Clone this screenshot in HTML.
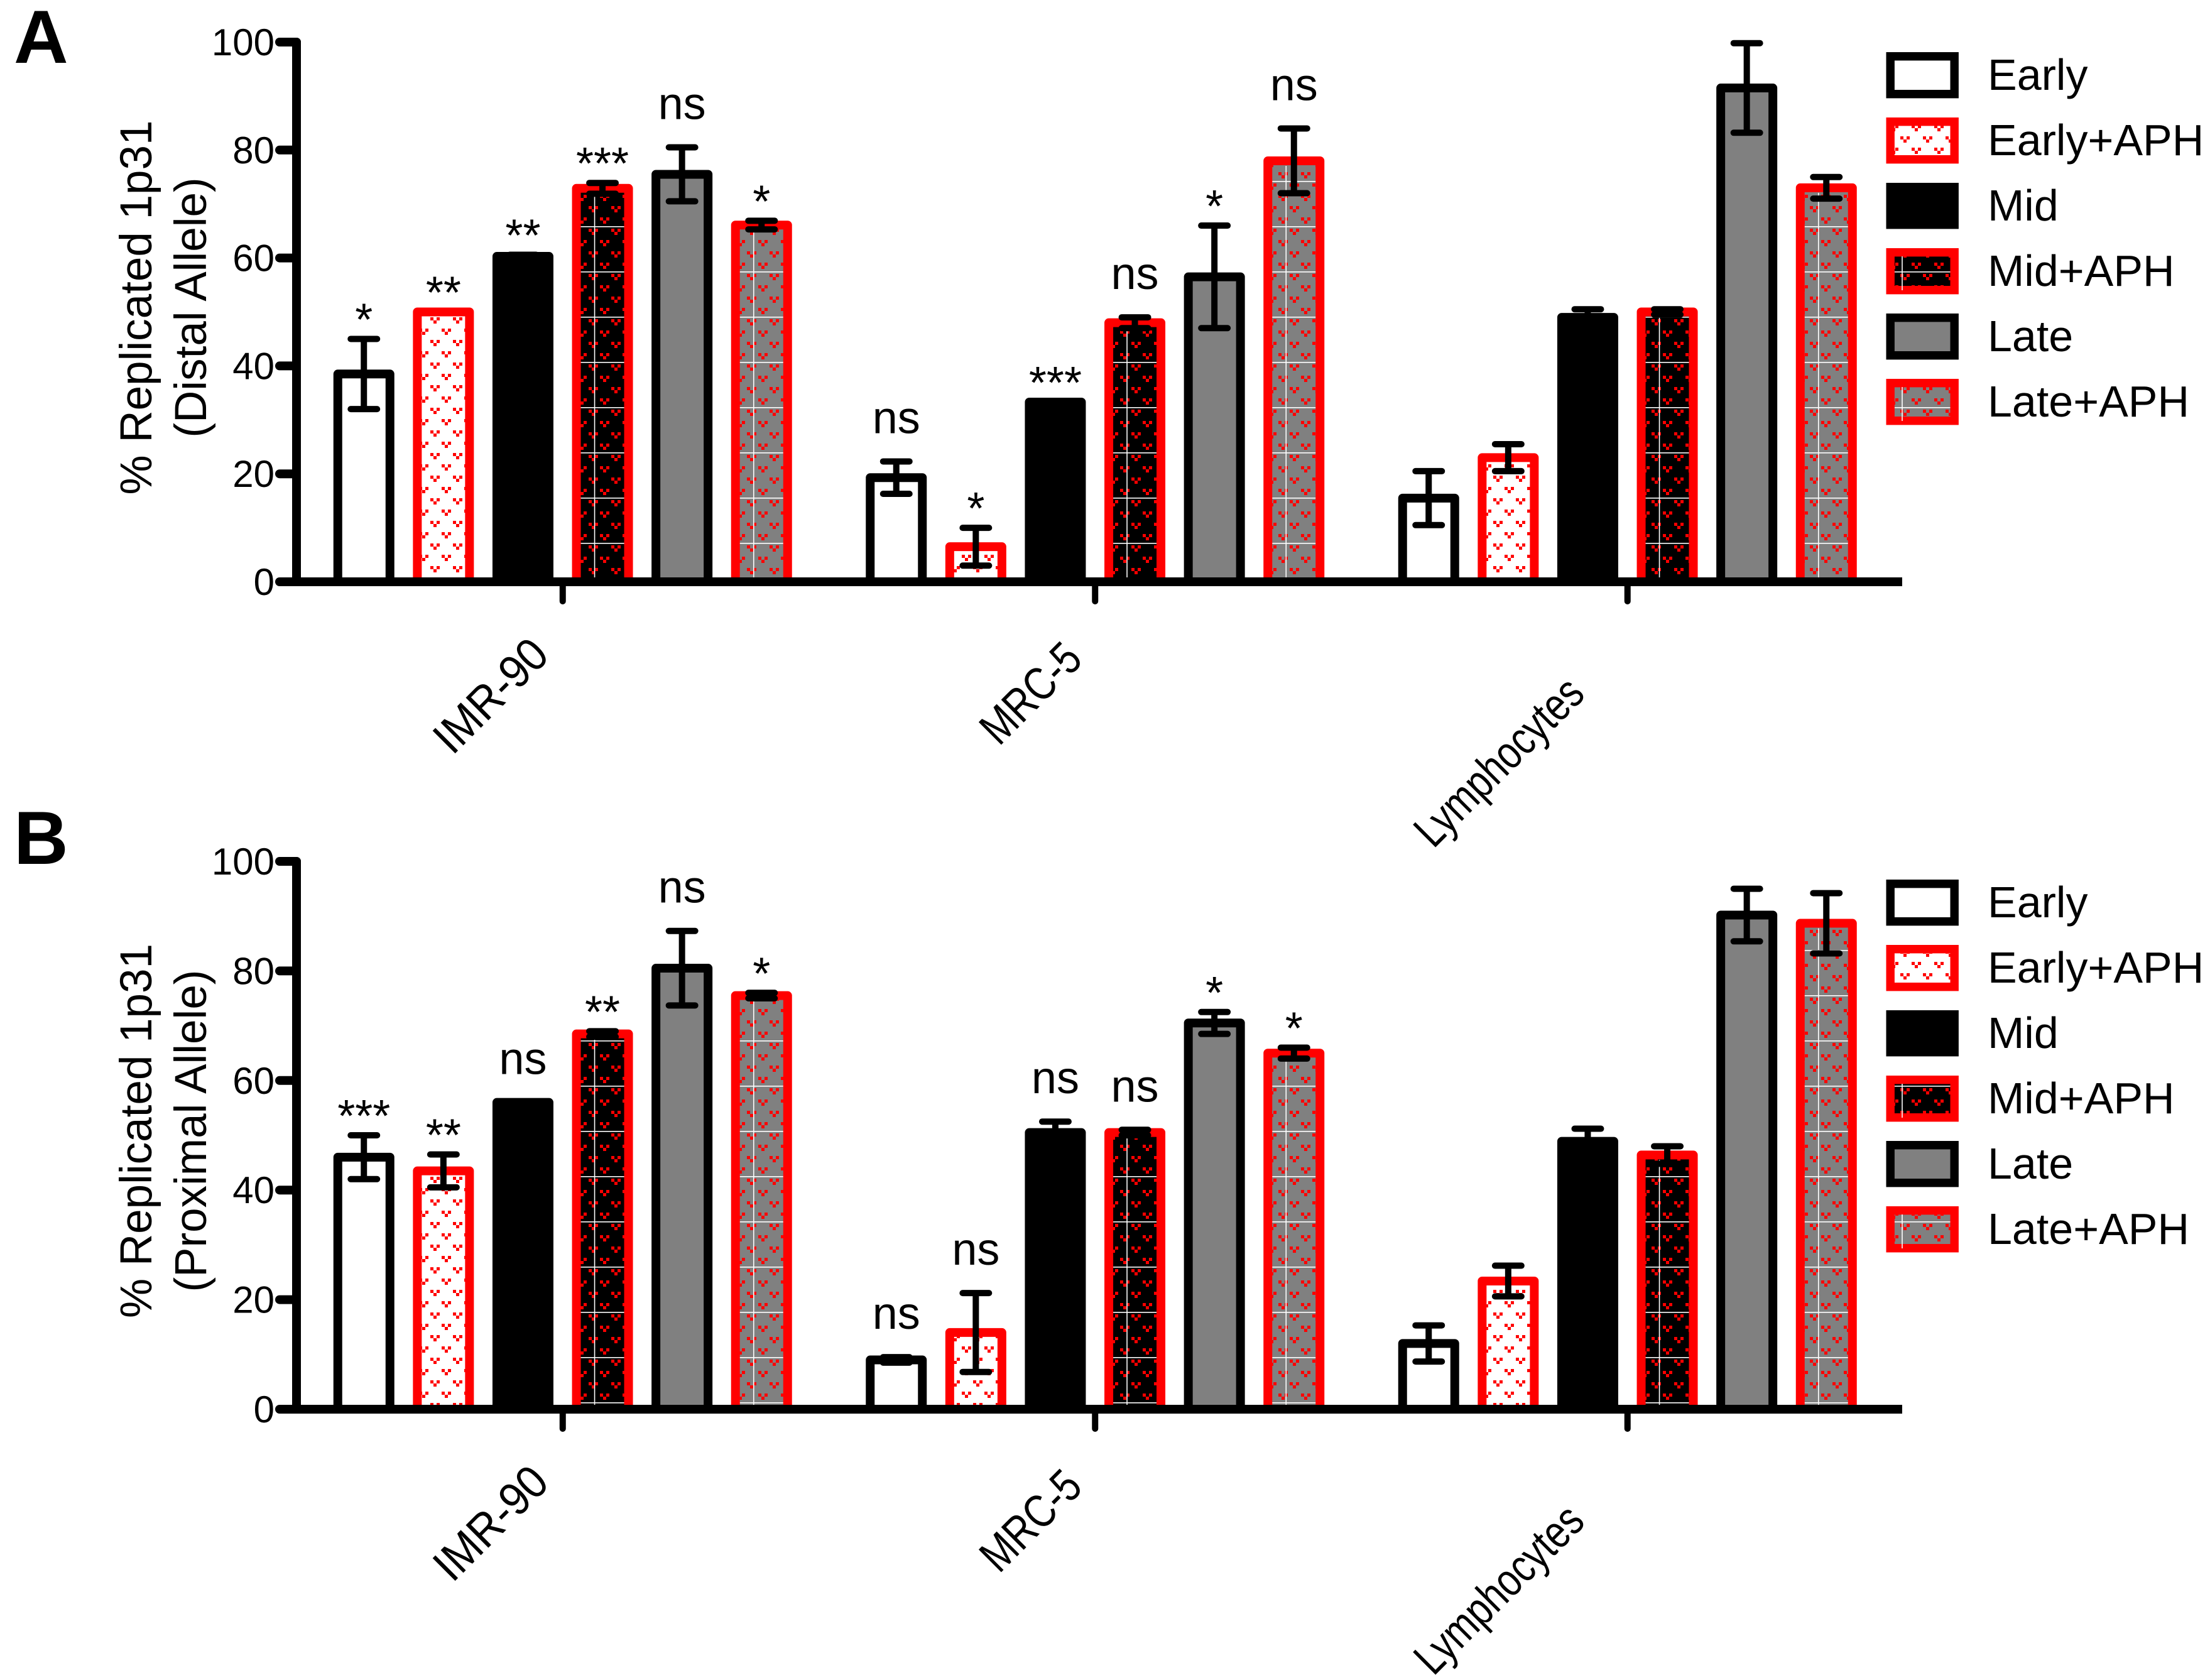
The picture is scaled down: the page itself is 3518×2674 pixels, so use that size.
<!DOCTYPE html>
<html>
<head>
<meta charset="utf-8">
<style>
html,body{margin:0;padding:0;background:#fff;}
svg{display:block;}
text{font-family:"Liberation Sans",Arial,sans-serif;}
</style>
</head>
<body>
<svg id="chart" xmlns="http://www.w3.org/2000/svg" width="3518" height="2674" viewBox="0 0 3518 2674">
<defs>
  <pattern id="pat-white" patternUnits="userSpaceOnUse" width="36" height="36">
    <rect width="36" height="36" fill="#fff"/>
    <g fill="#f00">
      <rect x="1" y="1" width="5" height="5"/><rect x="11" y="1" width="5" height="5"/><rect x="6" y="6" width="5" height="5"/>
      <rect x="19" y="19" width="5" height="5"/><rect x="29" y="19" width="5" height="5"/><rect x="24" y="24" width="5" height="5"/>
    </g>
  </pattern>
  <pattern id="pat-black" patternUnits="userSpaceOnUse" width="36" height="72">
    <rect width="36" height="72" fill="#000"/>
    <rect x="0" y="0" width="36" height="1.6" fill="#fff"/>
    <g fill="#f00">
      <rect x="1" y="4" width="5" height="5"/><rect x="11" y="4" width="5" height="5"/><rect x="6" y="9" width="5" height="5"/>
      <rect x="19" y="22" width="5" height="5"/><rect x="29" y="22" width="5" height="5"/><rect x="24" y="27" width="5" height="5"/>
      <rect x="1" y="40" width="5" height="5"/><rect x="11" y="40" width="5" height="5"/><rect x="6" y="45" width="5" height="5"/>
      <rect x="19" y="58" width="5" height="5"/><rect x="29" y="58" width="5" height="5"/><rect x="24" y="63" width="5" height="5"/>
    </g>
  </pattern>
  <pattern id="pat-gray" patternUnits="userSpaceOnUse" width="36" height="72">
    <rect width="36" height="72" fill="#808080"/>
    <rect x="0" y="0" width="36" height="1.6" fill="#fff"/>
    <g fill="#f00">
      <rect x="1" y="4" width="5" height="5"/><rect x="11" y="4" width="5" height="5"/><rect x="6" y="9" width="5" height="5"/>
      <rect x="19" y="22" width="5" height="5"/><rect x="29" y="22" width="5" height="5"/><rect x="24" y="27" width="5" height="5"/>
      <rect x="1" y="40" width="5" height="5"/><rect x="11" y="40" width="5" height="5"/><rect x="6" y="45" width="5" height="5"/>
      <rect x="19" y="58" width="5" height="5"/><rect x="29" y="58" width="5" height="5"/><rect x="24" y="63" width="5" height="5"/>
    </g>
  </pattern>
</defs>
<text x="22" y="100" font-size="120" font-weight="bold">A</text>
<text x="22" y="1375" font-size="120" font-weight="bold">B</text>
</svg>
<script>
const categories = ['IMR-90', 'MRC-5', 'Lymphocytes'];
const seriesNames = ['Early', 'Early+APH', 'Mid', 'Mid+APH', 'Late', 'Late+APH'];
const yTicks = [0, 20, 40, 60, 80, 100];

const distalMean = [
  [38.5, 50, 60.3, 72.9, 75.5, 66.1],
  [19.3, 6.5, 33.3, 48, 56.5, 78],
  [15.5, 23, 49, 50, 91.5, 73]
];
const distalErr = [
  [6.5, 0, 0.3, 1, 5, 0.8],
  [3, 3.5, 0, 1, 9.5, 6],
  [5, 2.5, 1.5, 0.5, 8.3, 2]
];
const distalSig = [
  ['*', '**', '**', '***', 'ns', '*'],
  ['ns', '*', '***', 'ns', '*', 'ns'],
  ['', '', '', '', '', '']
];
const proximalMean = [
  [46, 43.5, 56, 68.5, 80.5, 75.5],
  [9, 14, 50.5, 50.5, 70.5, 65],
  [12, 23.4, 48.9, 46.4, 90.2, 88.7]
];
const proximalErr = [
  [4, 3, 0, 0.5, 6.8, 0.5],
  [0.5, 7.2, 2, 0.5, 2, 1],
  [3.3, 2.8, 2.3, 1.6, 4.8, 5.5]
];
const proximalSig = [
  ['***', '**', 'ns', '**', 'ns', '*'],
  ['ns', 'ns', 'ns', 'ns', '*', '*'],
  ['', '', '', '', '', '']
];

const NS = 'http://www.w3.org/2000/svg';
const svg = document.getElementById('chart');
const styles = [
  {fill: '#fff', stroke: '#000', vline: false},
  {fill: 'url(#pat-white)', stroke: '#f00', vline: false},
  {fill: '#000', stroke: '#000', vline: false},
  {fill: 'url(#pat-black)', stroke: '#f00', vline: true},
  {fill: '#808080', stroke: '#000', vline: false},
  {fill: 'url(#pat-gray)', stroke: '#f00', vline: true}
];
const labelOffsets = [[-115, 181], [-103, 177], [-205, 286]];
const labelLengths = [222, 192, 345];

function mk(tag, attrs, parent) {
  const e = document.createElementNS(NS, tag);
  for (const k in attrs) e.setAttribute(k, attrs[k]);
  parent.appendChild(e);
  return e;
}

function drawPanel(opts) {
  const g = mk('g', {}, svg);
  
  
  const axisX = 472, x0 = 472, catW = 847.5, barStep = 126.6, barW = 97;
  const yScale = v => opts.y0 - (opts.y0 - opts.y100) * v / 100;
  const catCenter = i => x0 + catW * (i + 0.5);
  const barCenter = (i, j) => catCenter(i) + (j - 2.5) * barStep;

  opts.mean.forEach((row, i) => {
    row.forEach((v, j) => {
      const cx = barCenter(i, j);
      const st = styles[j];
      const r = mk('rect', {x: cx - barW / 2 + 7, y: yScale(v), width: barW - 14, height: Math.max(0, opts.y0 - yScale(v)),
        fill: st.fill, stroke: st.stroke, 'stroke-width': 14, 'stroke-linejoin': 'round'}, g);
      
      
      if (st.vline && v > 2) {
        const l = mk('line', {x1: cx - barW / 2 + 36, x2: cx - barW / 2 + 36, y1: yScale(v) + 8, y2: opts.y0, stroke: '#fff', 'stroke-width': 1.6}, g);
        
        
      }
    });
  });
  opts.err.forEach((row, i) => {
    row.forEach((e, j) => {
      if (e <= 0) return;
      const cx = barCenter(i, j), m = opts.mean[i][j];
      const eb = mk('path', {d: 'M' + cx + ' ' + yScale(m - e) + 'V' + yScale(m + e) +
        'M' + (cx - 21) + ' ' + yScale(m + e) + 'H' + (cx + 21) +
        'M' + (cx - 21) + ' ' + yScale(m - e) + 'H' + (cx + 21),
        stroke: '#000', 'stroke-width': 10, 'stroke-linecap': 'round', fill: 'none'}, g);
      
      
    });
  });
  opts.sig.forEach((row, i) => {
    row.forEach((s, j) => {
      if (!s) return;
      const top = yScale(opts.mean[i][j] + opts.err[i][j]);
      const t = mk('text', {x: barCenter(i, j), y: s === 'ns' ? top - 45 : top - 6, 'font-size': 72, 'text-anchor': 'middle'}, g);
      t.textContent = s;
      
      
    });
  });
  const ya = mk('line', {x1: axisX, x2: axisX, y1: opts.y100, y2: opts.y0, stroke: '#000', 'stroke-width': 14, 'stroke-linecap': 'round'}, g);
  
  
  const xa = mk('line', {x1: axisX, x2: 3028, y1: opts.y0, y2: opts.y0, stroke: '#000', 'stroke-width': 14}, g);
  
  
  yTicks.forEach(t => {
    const y = yScale(t);
    const tk = mk('line', {x1: 445, x2: axisX, y1: y, y2: y, stroke: '#000', 'stroke-width': 14, 'stroke-linecap': 'round'}, g);
    
    
    const tl = mk('text', {x: 437, y: y + 21, 'font-size': 60, 'text-anchor': 'end'}, g);
    tl.textContent = t;
    
    
  });
  categories.forEach((c, i) => {
    const cx = catCenter(i);
    const tk = mk('line', {x1: cx, x2: cx, y1: opts.y0, y2: opts.y0 + 31, stroke: '#000', 'stroke-width': 10, 'stroke-linecap': 'round'}, g);
    
    
    const lx = cx + labelOffsets[i][0], ly = opts.y0 + labelOffsets[i][1];
    const tl = mk('text', {x: lx, y: ly, 'font-size': 74, 'text-anchor': 'middle', 'dominant-baseline': 'central',
      textLength: labelLengths[i], lengthAdjust: 'spacingAndGlyphs', transform: 'rotate(-45 ' + lx + ' ' + ly + ')'}, g);
    tl.textContent = c;
    
    
  });
  const cy = (opts.y0 + opts.y100) / 2 - 7;
  const t1 = mk('text', {x: 241, y: cy, 'font-size': 71, 'text-anchor': 'middle', transform: 'rotate(-90 241 ' + cy + ')'}, g);
  t1.textContent = '% Replicated 1p31';
  
  
  const t2 = mk('text', {x: 328, y: cy, 'font-size': 71, 'text-anchor': 'middle', transform: 'rotate(-90 328 ' + cy + ')'}, g);
  t2.textContent = opts.subtitle;
  
  
  seriesNames.forEach((s, j) => {
    const top = opts.legendTop + j * 104;
    const st = styles[j];
    const lg = mk('g', {}, g);
    
    
    mk('rect', {x: 3009.2, y: top + 6.7, width: 102, height: 60, fill: st.fill, stroke: st.stroke, 'stroke-width': 13.4}, lg);
    if (st.vline) mk('line', {x1: 3028, x2: 3028, y1: top + 13, y2: top + 67, stroke: '#fff', 'stroke-width': 1.6}, lg);
    const lt = mk('text', {x: 3164, y: top + 60, 'font-size': 70}, lg);
    lt.textContent = s;
  });
}

drawPanel({name: 'panel-a-distal', y0: 926, y100: 67, mean: distalMean, err: distalErr, sig: distalSig, subtitle: '(Distal Allele)', legendTop: 83});
drawPanel({name: 'panel-b-proximal', y0: 2243, y100: 1371, mean: proximalMean, err: proximalErr, sig: proximalSig, subtitle: '(Proximal Allele)', legendTop: 1400});
</script>
</body>
</html>
